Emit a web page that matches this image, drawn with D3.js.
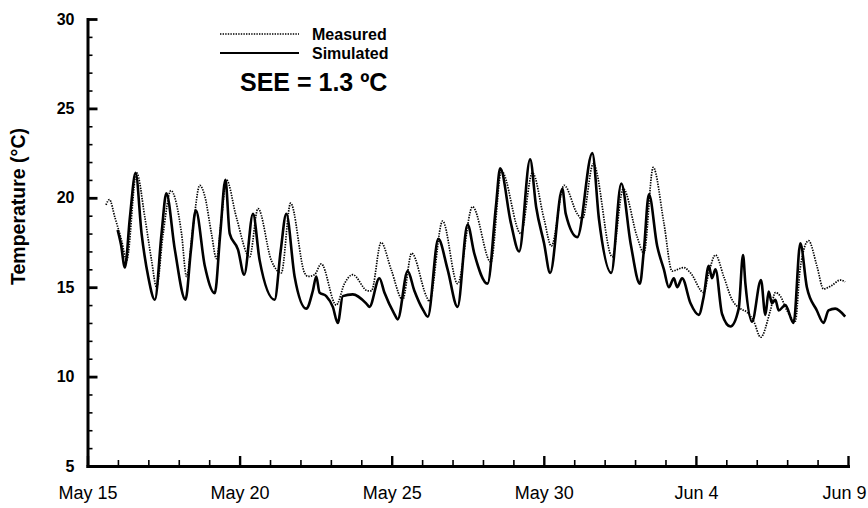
<!DOCTYPE html>
<html>
<head>
<meta charset="utf-8">
<script src="https://cdn.jsdelivr.net/npm/d3@7"></script>
<style>
  html, body { margin: 0; padding: 0; background: #fff; }
  svg { display: block; }
  text { font-family: "Liberation Sans", Arial, Helvetica, sans-serif; fill: #000; }
</style>
</head>
<body>
<svg id="chart" width="868" height="508"></svg>
<script>
// Hourly water temperature, measured vs. simulated, May 15 - Jun 9.
// Times are fractional days counted from May 15 00:00.
const measuredDay = [
  0.607, 0.722, 0.902, 1.122, 1.286, 1.614, 1.886, 2.106, 2.270, 2.487,
  2.740, 3.091, 3.255, 3.478, 3.691, 3.855, 4.075, 4.239, 4.413, 4.567,
  4.895, 5.331, 5.604, 6.043, 6.371, 6.677, 7.136, 7.244, 7.464, 7.684,
  8.176, 8.448, 8.720, 9.213, 9.334, 9.652, 9.980, 10.361, 10.656, 11.138,
  11.237, 11.673, 12.165, 12.657, 13.261, 13.609, 14.245, 14.626, 15.010, 15.249,
  15.666, 16.102, 16.266, 16.627, 17.251, 17.612, 18.071, 18.291, 18.596, 18.947,
  19.219, 19.603, 19.823, 20.259, 20.423, 20.643, 20.915, 21.188, 21.463, 21.680,
  21.900, 22.129, 22.448, 22.612, 22.776, 22.992, 23.268, 23.432, 23.704, 23.976,
  24.196, 24.469, 24.744, 24.908
];
const measuredTemp = [
  19.6, 19.9, 18.9, 17.6, 16.5, 21.4, 18.9, 16.5, 15.0, 18.0,
  20.4, 18.0, 15.6, 18.5, 20.7, 20.1, 18.0, 16.6, 19.0, 21.0,
  18.9, 16.7, 19.4, 16.5, 15.8, 19.7, 15.8, 15.6, 15.7, 16.3,
  14.0, 15.2, 15.7, 14.8, 14.8, 17.5, 16.0, 14.3, 16.9, 14.5,
  14.2, 18.7, 15.2, 19.5, 16.4, 21.5, 18.0, 21.4, 18.8, 17.3,
  20.7, 19.1, 18.8, 21.9, 16.7, 20.5, 17.8, 16.9, 21.7, 18.6,
  15.9, 16.1, 15.8, 14.7, 15.8, 16.8, 15.6, 14.3, 13.8, 13.6,
  13.1, 12.2, 13.7, 14.7, 14.5, 13.7, 13.1, 16.1, 17.6, 16.2,
  14.9, 15.1, 15.4, 15.3
];

const simulatedDay = [
  0.991, 1.099, 1.230, 1.394, 1.581, 1.778, 1.995, 2.215, 2.434, 2.592,
  2.871, 3.222, 3.396, 3.560, 3.855, 4.183, 4.364, 4.534, 4.675, 4.948,
  5.151, 5.440, 5.659, 6.152, 6.348, 6.535, 6.808, 7.192, 7.408, 7.520,
  7.628, 7.848, 8.064, 8.228, 8.392, 8.720, 9.160, 9.268, 9.596, 9.760,
  10.089, 10.197, 10.525, 10.745, 11.040, 11.188, 11.532, 11.837, 12.165, 12.493,
  12.713, 13.150, 13.425, 13.566, 13.917, 14.190, 14.550, 14.747, 15.010, 15.207,
  15.610, 15.722, 16.102, 16.594, 16.814, 17.218, 17.546, 17.854, 18.159, 18.291,
  18.455, 18.727, 18.947, 19.111, 19.275, 19.383, 19.547, 19.823, 20.095, 20.259,
  20.423, 20.531, 20.643, 20.860, 21.135, 21.407, 21.549, 21.627, 21.844, 22.139,
  22.283, 22.392, 22.500, 22.612, 22.720, 22.940, 23.212, 23.432, 23.648, 23.976,
  24.196, 24.360, 24.580, 24.908
];
const simulatedTemp = [
  18.2, 17.4, 16.1, 18.9, 21.4, 18.0, 15.6, 14.3, 18.0, 20.25,
  17.1, 14.3, 17.0, 19.3, 16.2, 14.66, 18.0, 21.0, 18.0, 17.1,
  15.7, 19.1, 16.5, 14.3, 17.0, 19.1, 15.6, 13.8, 14.8, 15.6,
  14.7, 14.5, 13.9, 13.0, 14.5, 14.6, 14.1, 13.9, 15.5, 14.7,
  13.5, 13.2, 15.9, 14.8, 13.7, 13.35, 17.7, 16.0, 13.9, 18.5,
  16.9, 15.2, 19.5, 21.65, 18.6, 17.0, 22.15, 19.5, 17.45, 15.8,
  20.5, 19.1, 17.8, 22.5, 18.8, 15.8, 20.8, 17.45, 15.2, 17.1,
  20.2, 17.3, 16.0, 15.0, 15.5, 15.0, 15.5, 14.1, 13.45, 14.5,
  16.2, 15.5, 16.0, 13.5, 12.8, 13.8, 16.8, 15.2, 13.07, 15.4,
  13.45, 14.75, 14.1, 14.3, 13.7, 14.0, 13.0, 17.45, 15.0, 13.7,
  13.0, 13.7, 13.8, 13.35
];

const xTickDay = [0, 5, 10, 15, 20, 25];
const xTickLabels = ["May 15", "May 20", "May 25", "May 30", "Jun 4", "Jun 9"];
const yTickValues = [5, 10, 15, 20, 25, 30];
const yTickLabels = ["5", "10", "15", "20", "25", "30"];

const legendLabels = ["Measured", "Simulated"];
const errorLabel = "SEE = 1.3 \u00BAC";
const yTitle = "Temperature (\u00B0C)";

// ---- layout ----
const start = new Date(1995, 4, 15);
const toDate = d => new Date(start.getTime() + d * 864e5);

const svg = d3.select("#chart");
const plot = { left: 87.5, right: 848, top: 19, bottom: 466 };

const x = d3.scaleTime().domain([start, toDate(25)]).range([plot.left, plot.right]);
const y = d3.scaleLinear().domain([5, 30]).range([plot.bottom, plot.top]);

// minor ticks: every day on x, every degree on y
const xMinor = d3.range(0, 26).filter(d => d % 5 !== 0).map(toDate);
const yMinor = d3.range(5, 31).filter(v => v % 5 !== 0);

const gx = svg.append("g").attr("transform", `translate(0,${plot.bottom})`);
gx.call(d3.axisBottom(x).tickValues(xMinor).tickSize(-6).tickFormat(""));
gx.selectAll(".tick line").attr("stroke", "#000").attr("stroke-width", 1.6);
gx.selectAll(".domain").remove();

const gxMajor = svg.append("g").attr("transform", `translate(0,${plot.bottom})`)
  .call(d3.axisBottom(x)
    .tickValues(xTickDay.map(toDate))
    .tickSize(-10)
    .tickSizeOuter(0)
    .tickFormat((d, i) => xTickLabels[i]));
gxMajor.select(".domain").attr("stroke", "#000").attr("stroke-width", 3)
  .attr("stroke-linecap", "square");
gxMajor.selectAll(".tick line").attr("stroke", "#000").attr("stroke-width", 2.4);
gxMajor.selectAll(".tick text")
  .attr("y", 33).attr("dy", 0)
  .style("font-size", "18px");
// the last date label sits flush with the right edge of the frame
gxMajor.selectAll(".tick text")
  .filter((d, i, n) => i === n.length - 1)
  .attr("text-anchor", "end").attr("x", 18);

const gy = svg.append("g").attr("transform", `translate(${plot.left},0)`);
gy.call(d3.axisLeft(y).tickValues(yMinor).tickSize(-5).tickFormat(""));
gy.selectAll(".tick line").attr("stroke", "#000").attr("stroke-width", 1.6);
gy.selectAll(".domain").remove();

const gyMajor = svg.append("g").attr("transform", `translate(${plot.left},0)`)
  .call(d3.axisLeft(y)
    .tickValues(yTickValues)
    .tickSize(-10)
    .tickSizeOuter(0)
    .tickPadding(13)
    .tickFormat((d, i) => yTickLabels[i]));
gyMajor.select(".domain").attr("stroke", "#000").attr("stroke-width", 3)
  .attr("stroke-linecap", "square");
gyMajor.selectAll(".tick line").attr("stroke", "#000").attr("stroke-width", 2.8);
gyMajor.selectAll(".tick text")
  .style("font-size", "16px").style("font-weight", "bold");

svg.append("text")
  .attr("transform", `translate(25,${(plot.top + plot.bottom) / 2 - 36}) rotate(-90)`)
  .attr("text-anchor", "middle")
  .style("font-size", "19.5px").style("font-weight", "bold")
  .text(yTitle);

// ---- series ----
const measured = measuredDay.map((d, i) => ({ t: toDate(d), v: measuredTemp[i] }));
const simulated = simulatedDay.map((d, i) => ({ t: toDate(d), v: simulatedTemp[i] }));

const line = d3.line().x(d => x(d.t)).y(d => y(d.v)).curve(d3.curveMonotoneX);

svg.append("path").datum(simulated)
  .attr("d", line)
  .attr("fill", "none").attr("stroke", "#000")
  .attr("stroke-width", 2.6).attr("stroke-linejoin", "round");

svg.append("path").datum(measured)
  .attr("d", line)
  .attr("fill", "none").attr("stroke", "#000")
  .attr("stroke-width", 1.7).attr("stroke-dasharray", "1.4 1.2");

// ---- legend ----
const legend = svg.append("g");
const legendStyles = [
  { w: 1.7, dash: "1.4 1.2", y: 34 },
  { w: 2.2, dash: null, y: 53 }
];
legendLabels.forEach((lab, i) => {
  const s = legendStyles[i];
  legend.append("line")
    .attr("x1", 220).attr("x2", 299).attr("y1", s.y).attr("y2", s.y)
    .attr("stroke", "#000").attr("stroke-width", s.w)
    .attr("stroke-dasharray", s.dash);
  legend.append("text")
    .attr("x", 312).attr("y", s.y + 6)
    .style("font-size", "16px").style("font-weight", "bold")
    .text(lab);
});
legend.append("text")
  .attr("x", 240).attr("y", 91)
  .style("font-size", "25px").style("font-weight", "bold")
  .text(errorLabel);
</script>
</body>
</html>
